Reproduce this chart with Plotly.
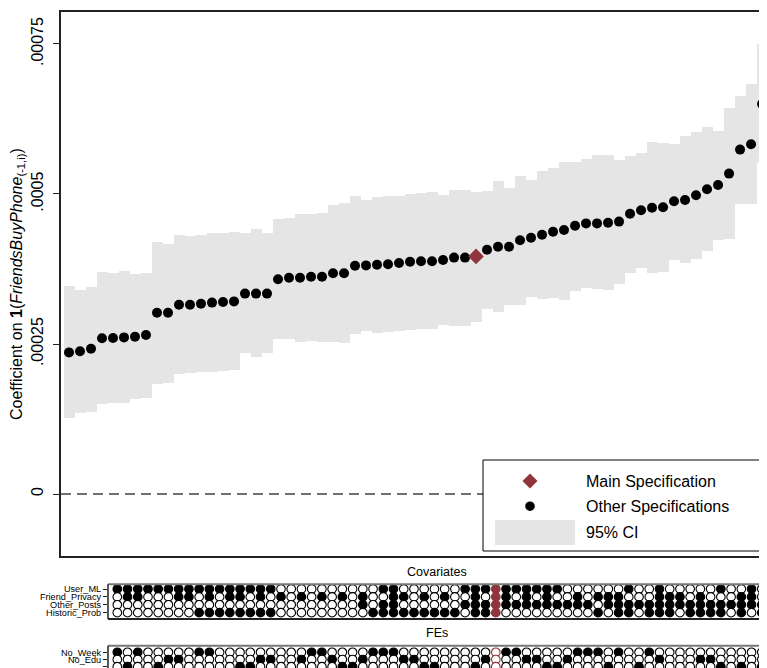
import plotly.graph_objects as go

# ---------------- data ----------------
spec_index = list(range(64))
main_spec = 37

coef = [
    0.000236, 0.000238, 0.000242, 0.0002595, 0.000260, 0.000261, 0.000262, 0.000265,
    0.000302, 0.000302, 0.0003155, 0.0003155, 0.000317, 0.000319, 0.000320, 0.000321,
    0.000334, 0.000334, 0.000334, 0.000358, 0.0003605, 0.0003605, 0.000362, 0.000362,
    0.000368, 0.000368, 0.0003805, 0.000381, 0.000382, 0.000383, 0.000385, 0.000387,
    0.000388, 0.000388, 0.000390, 0.000394, 0.000394, 0.000396, 0.000407, 0.000412,
    0.000412, 0.000423, 0.000427, 0.000432, 0.000437, 0.000440, 0.000447, 0.000451,
    0.000451, 0.000452, 0.000454, 0.000467, 0.000473, 0.000477, 0.000478, 0.000488,
    0.000490, 0.000498, 0.000508, 0.000515, 0.000534, 0.000574, 0.000583, 0.000650,
]
ci_upper = [
    0.000347, 0.000340, 0.0003455, 0.0003705, 0.000368, 0.0003717, 0.0003667, 0.000369,
    0.0004205, 0.0004167, 0.0004317, 0.000430, 0.000432, 0.0004345, 0.000435, 0.0004367,
    0.0004355, 0.0004417, 0.0004355, 0.000458, 0.0004595, 0.0004667, 0.0004667, 0.000469,
    0.0004817, 0.000485, 0.0004967, 0.000490, 0.000495, 0.000496, 0.0004967, 0.000500,
    0.0005017, 0.000503, 0.000498, 0.000506, 0.000506, 0.000503, 0.0005045, 0.000522,
    0.0005095, 0.000530, 0.000523, 0.000538, 0.000543, 0.000553, 0.000553, 0.000558,
    0.0005645, 0.0005645, 0.000557, 0.000563, 0.000569, 0.000586, 0.000585, 0.000583,
    0.000597, 0.000603, 0.000611, 0.000605, 0.000643, 0.000663, 0.000683, 0.000750,
]
ci_lower = [
    0.000127, 0.0001345, 0.000136, 0.000150, 0.000151, 0.0001517, 0.000158, 0.000160,
    0.000183, 0.0001845, 0.000200, 0.000201, 0.000203, 0.000204, 0.0002055, 0.0002067,
    0.0002345, 0.0002278, 0.0002355, 0.0002578, 0.0002589, 0.0002539, 0.000255, 0.000254,
    0.0002528, 0.0002522, 0.0002661, 0.0002717, 0.0002689, 0.0002694, 0.0002717, 0.0002733,
    0.000275, 0.0002756, 0.0002817, 0.0002806, 0.0002806, 0.0002872, 0.0003083, 0.0003039,
    0.000315, 0.0003156, 0.0003278, 0.000325, 0.0003261, 0.0003233, 0.0003389, 0.0003433,
    0.0003411, 0.000340, 0.0003494, 0.0003689, 0.0003767, 0.0003689, 0.0003706, 0.000390,
    0.0003844, 0.0003911, 0.000405, 0.0004233, 0.000425, 0.0004833, 0.000483, 0.000551,
]

y_tickvals = [0, 0.00025, 0.0005, 0.00075]
y_ticktext = ["0", ".00025", ".0005", ".00075"]

covariate_labels = ["User_ML", "Friend_Privacy", "Other_Posts", "Historic_Prob"]
user_ml = ([1] * 16 + [0] * 10 + [1, 1] + [0] * 6 + [1] * 10 + [0] * 6 +
           [1, 0, 0, 1, 0, 0, 0, 0, 0, 1, 0, 0, 1, 0])
friend_privacy = [0, 1, 1, 0, 0, 0, 1, 1,
                  0, 1, 0, 1, 1, 0, 1, 0,
                  1, 0, 1, 0, 1, 0, 1, 0,
                  1, 0, 0, 1, 1, 0, 1, 0, 1, 0,
                  0, 1, 0, 1, 1, 0, 1, 0, 1, 0,
                  0, 1, 0, 1, 1, 1, 0, 0, 0, 1, 1, 1, 0, 1, 0, 0, 0, 1, 1, 0]
other_posts = ([0] * 24 + [1, 0, 1, 1] + [0] * 6 + [1] * 13 + [0] + [1] * 16)
historic_prob = ([0] * 8 + [1] * 8 + [0] * 9 + [1, 1, 1] + [1] * 6 + [0, 1, 1, 1] +
                 [0] * 9 + [1, 0, 1, 1, 0, 1, 1, 1, 0, 1, 1, 1, 1, 0, 1, 0, 1])

fe_labels = ["No_Week", "No_Edu", "No_Age"]
fe_choice = ["W", "A", "W", "-", "A", "E", "E", "-",
             "W", "W", "-", "-", "A", "A", "E", "E",
             "-", "-", "E", "W", "W", "E", "A", "A",
             "E", "W", "W", "W", "E", "E", "A", "A", "-", "-",
             "-", "A", "E", "-", "W", "W", "E", "E", "A", "A",
             "E", "W", "W", "W", "A", "W", "-", "A", "W", "E", "-", "-", "-", "E", "E", "A", "-", "A", "-", "A"]
no_week = [1 if c == "W" else 0 for c in fe_choice]
no_edu = [1 if c == "E" else 0 for c in fe_choice]
no_age = [1 if c == "A" else 0 for c in fe_choice]

# ---------------- styling ----------------
PAGE_W, PAGE_H = 767, 668
OFF = 8  # default page-body margin around the plot div
W, H = PAGE_W - OFF, PAGE_H - OFF
RED = "#90353B"
GRAY = "#e5e5e5"
FONT = "Liberation Sans, Arial, sans-serif"


def px(x):
    return (x - OFF) / W


def py(y):
    return 1 - (y - OFF) / H


fig = go.Figure()

# CI bars
fig.add_trace(go.Bar(
    x=spec_index, y=[u - l for u, l in zip(ci_upper, ci_lower)], base=ci_lower,
    width=1.0, marker=dict(color=GRAY, line=dict(width=0)),
    xaxis="x", yaxis="y", hoverinfo="skip"))

# other specifications
oth_x = [i for i in spec_index if i != main_spec]
oth_y = [coef[i] for i in oth_x]
fig.add_trace(go.Scatter(
    x=oth_x, y=oth_y, mode="markers",
    marker=dict(color="black", size=10, line=dict(width=0)),
    xaxis="x", yaxis="y"))

# main specification
fig.add_trace(go.Scatter(
    x=[main_spec], y=[coef[main_spec]], mode="markers",
    marker=dict(color=RED, size=12, symbol="diamond", line=dict(width=0)),
    xaxis="x", yaxis="y"))


def add_rows(rows, xa, ya):
    for k, vals in enumerate(rows):
        fill = []
        edge = []
        for i, v in enumerate(vals):
            if i == main_spec:
                fill.append(RED if v else "white")
                edge.append(RED)
            else:
                fill.append("black" if v else "white")
                edge.append("black")
        fig.add_trace(go.Scatter(
            x=spec_index, y=[k] * len(vals), mode="markers",
            marker=dict(color=fill, size=8.6, line=dict(color=edge, width=1.1)),
            xaxis=xa, yaxis=ya, hoverinfo="skip"))


add_rows([user_ml, friend_privacy, other_posts, historic_prob], "x2", "y2")
add_rows([no_week, no_edu, no_age], "x3", "y3")

shapes = []
# dashed zero line
shapes.append(dict(type="line", xref="x domain", yref="y", x0=0, x1=1, y0=0, y1=0,
                   line=dict(color="#444", width=1.3, dash="10px,6px"), layer="below"))
# bottom panel frames
shapes += [
    dict(type="line", xref="paper", yref="paper", x0=px(108), x1=1, y0=py(584.3), y1=py(584.3),
         line=dict(color="#777", width=2)),
    dict(type="line", xref="paper", yref="paper", x0=px(108), x1=1, y0=py(619), y1=py(619),
         line=dict(color="#222", width=2)),
    dict(type="line", xref="paper", yref="paper", x0=px(108), x1=px(108), y0=py(619), y1=py(584.3),
         line=dict(color="#222", width=1.5)),
    dict(type="line", xref="paper", yref="paper", x0=px(108), x1=1, y0=py(645.7), y1=py(645.7),
         line=dict(color="#777", width=2)),
    dict(type="line", xref="paper", yref="paper", x0=px(108), x1=px(108), y0=0, y1=py(645.7),
         line=dict(color="#222", width=1.5)),
]
# legend
shapes += [
    dict(type="rect", xref="paper", yref="paper", x0=px(483), x1=px(790), y0=py(551), y1=py(460),
         line=dict(color="black", width=1), fillcolor="white", layer="above"),
    dict(type="path", xref="paper", yref="paper",
         path=(f"M {px(530)} {py(473.5)} L {px(537.5)} {py(481)} "
               f"L {px(530)} {py(488.5)} L {px(522.5)} {py(481)} Z"),
         fillcolor=RED, line=dict(width=0), layer="above"),
    dict(type="circle", xref="paper", yref="paper", x0=px(525.2), x1=px(534.8),
         y0=py(511), y1=py(501.4), fillcolor="black", line=dict(width=0), layer="above"),
    dict(type="rect", xref="paper", yref="paper", x0=px(495), x1=px(575), y0=py(545), y1=py(520),
         fillcolor=GRAY, line=dict(width=0), layer="above"),
]

annotations = [
    dict(text="Coefficient on <b>1</b>(<i>FriendsBuyPhone</i><sub>(-1,i)</sub>)",
         x=px(17), y=py(284), xref="paper", yref="paper", textangle=-90,
         showarrow=False, font=dict(size=16, color="black", family=FONT),
         xanchor="center", yanchor="middle"),
    dict(text="Main Specification", x=px(584), y=py(481), xref="paper", yref="paper",
         xanchor="left", yanchor="middle", showarrow=False,
         font=dict(size=16, color="black", family=FONT)),
    dict(text="Other Specifications", x=px(584), y=py(506), xref="paper", yref="paper",
         xanchor="left", yanchor="middle", showarrow=False,
         font=dict(size=16, color="black", family=FONT)),
    dict(text="95% CI", x=px(584), y=py(532), xref="paper", yref="paper",
         xanchor="left", yanchor="middle", showarrow=False,
         font=dict(size=16, color="black", family=FONT)),
    dict(text="Covariates", x=px(437), y=py(572), xref="paper", yref="paper",
         xanchor="center", yanchor="middle", showarrow=False,
         font=dict(size=12.5, color="black", family=FONT)),
    dict(text="FEs", x=px(437), y=py(633), xref="paper", yref="paper",
         xanchor="center", yanchor="middle", showarrow=False,
         font=dict(size=12.5, color="black", family=FONT)),
]

fig.update_layout(
    width=W, height=H, autosize=False,
    margin=dict(l=0, r=0, t=0, b=0, pad=0),
    paper_bgcolor="white", plot_bgcolor="white",
    showlegend=False, bargap=0,
    font=dict(family=FONT, color="black"),
    shapes=shapes, annotations=annotations,
    xaxis=dict(domain=[px(61), 1], range=[-0.727, 63.45], showticklabels=False, ticks="",
               showgrid=False, zeroline=False, showline=True, mirror=True,
               linecolor="#222", linewidth=1.5, anchor="y", automargin=False),
    yaxis=dict(domain=[py(556), py(12)], range=[-0.0001033, 0.0008033],
               tickvals=y_tickvals, ticktext=y_ticktext, tickangle=-90,
               ticks="outside", ticklen=6, tickwidth=1.2, tickcolor="#222",
               tickfont=dict(size=16, family=FONT, color="black"),
               ticklabelstandoff=4, automargin=False,
               showgrid=False, zeroline=False, showline=True, linecolor="#222",
               linewidth=1.5, anchor="x"),
    xaxis2=dict(domain=[px(108), 1], range=[-0.909, 63.51], showticklabels=False, ticks="",
                showgrid=False, zeroline=False, showline=False, anchor="y2", automargin=False),
    yaxis2=dict(domain=[py(619), py(584.3)], range=[3.8, -0.595],
                tickvals=[0, 1, 2, 3], ticktext=covariate_labels,
                ticks="outside", ticklen=4, tickcolor="#222",
                tickfont=dict(size=9.2, family=FONT, color="black"),
                showgrid=False, zeroline=False, showline=False, anchor="x2", automargin=False),
    xaxis3=dict(domain=[px(108), 1], range=[-0.909, 63.51], showticklabels=False, ticks="",
                showgrid=False, zeroline=False, showline=False, anchor="y3", automargin=False),
    yaxis3=dict(domain=[0, py(645.7)], range=[2.18, -0.917],
                tickvals=[0, 1, 2], ticktext=fe_labels,
                ticks="outside", ticklen=4, tickcolor="#222",
                tickfont=dict(size=9.2, family=FONT, color="black"),
                showgrid=False, zeroline=False, showline=False, anchor="x3", automargin=False),
)

fig.write_html("out.html")
